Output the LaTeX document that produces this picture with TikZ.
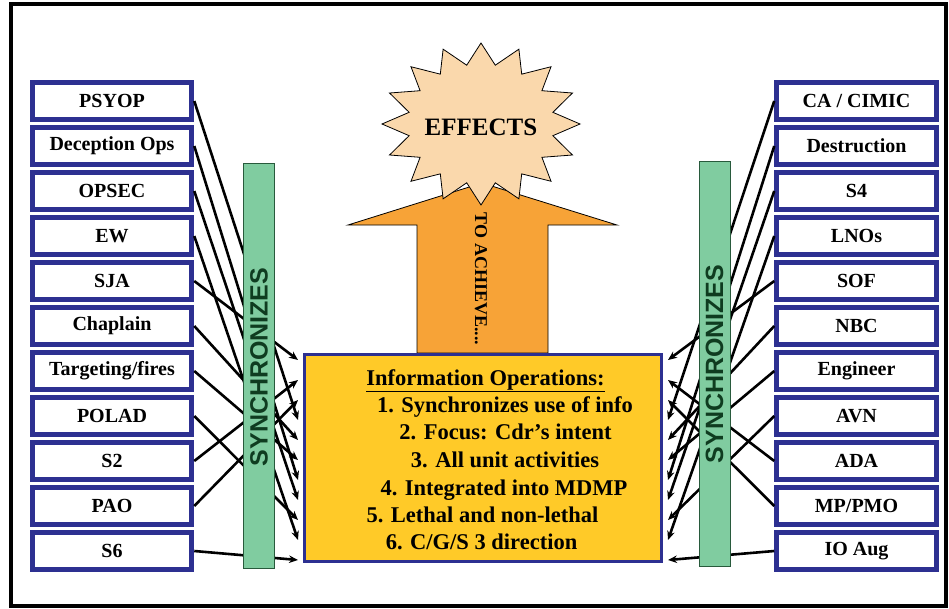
\documentclass[tikz,border=0pt]{standalone}
\usepackage{fontspec}
\setmainfont{Liberation Serif}
\newfontfamily\syncfont{Liberation Sans}
\usetikzlibrary{arrows.meta}
\definecolor{navy}{RGB}{45,48,145}
\definecolor{bargreen}{RGB}{128,204,160}
\definecolor{bardark}{RGB}{40,90,60}
\definecolor{synctext}{RGB}{15,60,32}
\definecolor{ioyellow}{RGB}{255,202,40}
\definecolor{arroworange}{RGB}{247,163,55}
\definecolor{peach}{RGB}{250,216,172}
\tikzset{
  lbox/.style={draw=navy, line width=5pt, fill=white, minimum width=159.5pt, minimum height=37.5pt, inner sep=0pt, font=\fontsize{20}{24}\selectfont\bfseries},
  conn/.style={line width=2.6pt, -{Stealth[length=9pt,width=7.5pt]}},
  syncbar/.style={draw=bardark, line width=1pt, fill=bargreen, minimum width=31pt, minimum height=405pt, inner sep=0pt},
  synclabel/.style={rotate=90, text=synctext, font=\syncfont\bfseries\fontsize{25}{30}\selectfont},
  ioline/.style={anchor=base, inner sep=0pt, font=\fontsize{22.5}{27}\selectfont\bfseries}
}
\begin{document}
\begin{tikzpicture}[x=1pt,y=-1pt]
\useasboundingbox (0,0) rectangle (949,608);
\draw[line width=4pt] (10.5,3.5) rectangle (945.5,605.5);

% left boxes
\node[lbox] (psyop) at (112,101) {PSYOP};
\node[lbox] (decep) at (112,146) {Deception Ops};
\node[lbox] (opsec) at (112,191) {OPSEC};
\node[lbox] (ew)    at (112,236) {EW};
\node[lbox] (sja)   at (112,281) {SJA};
\node[lbox] (chap)  at (112,326) {Chaplain};
\node[lbox] (targ)  at (112,371) {Targeting/fires};
\node[lbox] (polad) at (112,416) {POLAD};
\node[lbox] (stwo)  at (112,461) {S2};
\node[lbox] (pao)   at (112,506) {PAO};
\node[lbox] (ssix)  at (112,551) {S6};

% right boxes
\node[lbox] (ca)    at (856.5,101) {CA / CIMIC};
\node[lbox] (destr) at (856.5,146) {Destruction};
\node[lbox] (sfour) at (856.5,191) {S4};
\node[lbox] (lnos)  at (856.5,236) {LNOs};
\node[lbox] (sof)   at (856.5,281) {SOF};
\node[lbox] (nbc)   at (856.5,326) {NBC};
\node[lbox] (eng)   at (856.5,371) {Engineer};
\node[lbox] (avn)   at (856.5,416) {AVN};
\node[lbox] (ada)   at (856.5,461) {ADA};
\node[lbox] (mp)    at (856.5,506) {MP/PMO};
\node[lbox] (ioaug) at (856.5,551) {IO Aug};

% orange arrow
\draw[fill=arroworange, draw=black, line width=0.8pt]
  (417,353) -- (417,225) -- (348,225) -- (482,183) -- (617,225) -- (548,225) -- (548,353) -- cycle;
\node[rotate=-90, inner sep=0pt, font=\fontsize{18}{20}\selectfont\bfseries] (toach) at (481,279) {TO ACHIEVE....};

% starburst
\draw[fill=peach, draw=black, line width=0.8pt]
  plot[samples at={0,...,31}] ({481+99*(1-0.26*mod(\x,2))*cos(90+11.25*\x)}, {124-81*(1-0.26*mod(\x,2))*sin(90+11.25*\x)}) -- cycle;
\node[inner sep=0pt, font=\fontsize{25}{30}\selectfont\bfseries] (effects) at (481,127) {EFFECTS};

% central box
\node[draw=navy, line width=3pt, fill=ioyellow, minimum width=357pt, minimum height=207pt, inner sep=0pt] (io) at (483,458) {};
\node[ioline] (t0) at (485.5,385) {\underline{Information Operations:}};
\node[ioline] (t1) at (505,412) {1. Synchronizes use of info};
\node[ioline] (t2) at (505.5,439) {2. Focus: Cdr’s intent};
\node[ioline] (t3) at (505,467) {3. All unit activities};
\node[ioline] (t4) at (504,495) {4. Integrated into MDMP};
\node[ioline] (t5) at (482.5,522) {5. Lethal and non-lethal};
\node[ioline] (t6) at (481.5,549) {6. C/G/S 3 direction};

% arrow tip points beside the central box
\foreach \k in {0,...,10} {
  \coordinate (tl\k) at (298,{360+20*\k});
  \coordinate (tr\k) at (668,{360+20*\k});
}

% left connectors
\draw[conn] (sja.east)   -- (tl0);
\draw[conn] (stwo.east)  -- (tl1);
\draw[conn] (pao.east)   -- (tl2);
\draw[conn] (psyop.east) -- (tl3);
\draw[conn] (chap.east)  -- (tl4);
\draw[conn] (targ.east)  -- (tl5);
\draw[conn] (decep.east) -- (tl6);
\draw[conn] (opsec.east) -- (tl7);
\draw[conn] (polad.east) -- (tl8);
\draw[conn] (ew.east)    -- (tl9);
\draw[conn] (ssix.east)  -- (tl10);

% right connectors
\draw[conn] (sof.west)   -- (tr0);
\draw[conn] (ada.west)   -- (tr1);
\draw[conn] (mp.west)    -- (tr2);
\draw[conn] (ca.west)    -- (tr3);
\draw[conn] (nbc.west)   -- (tr4);
\draw[conn] (eng.west)   -- (tr5);
\draw[conn] (destr.west) -- (tr6);
\draw[conn] (sfour.west) -- (tr7);
\draw[conn] (avn.west)   -- (tr8);
\draw[conn] (lnos.west)  -- (tr9);
\draw[conn] (ioaug.west) -- (tr10);

% synchronize bars
\node[syncbar] (barL) at (259,366) {};
\node[synclabel] (syncL) at (259,367) {SYNCHRONIZES};
\node[syncbar] (barR) at (714.5,363.5) {};
\node[synclabel] (syncR) at (714.5,364) {SYNCHRONIZES};
\end{tikzpicture}
\end{document}
